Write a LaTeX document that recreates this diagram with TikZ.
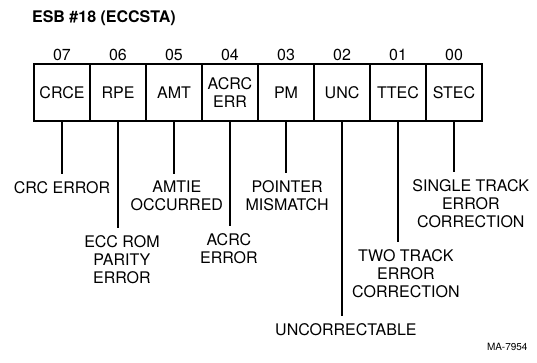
\documentclass[tikz,border=0pt]{standalone}
\usepackage{fontspec}
\setmainfont{TeX Gyre Heros}
\usetikzlibrary{positioning}
\tikzset{
  bitcell/.style={draw=black, line width=0.6pt, minimum width=28pt, minimum height=28.5pt, inner sep=0pt, outer sep=0pt, align=center, font=\fontsize{8}{8.8}\selectfont},
  bitnum/.style={inner sep=0pt, font=\fontsize{8}{9}\selectfont},
  frame/.style={draw=black, line width=1.2pt},
  lead/.style={draw=black, line width=0.8pt},
  note/.style={inner sep=3.5pt, anchor=north, align=center, font=\fontsize{8}{9}\selectfont}
}

\begin{document}
\begin{tikzpicture}[x=28pt, y=28pt]
  \useasboundingbox (-0.607,1.143) rectangle (8.982,-5.321);
  \node[anchor=base west, inner sep=0pt, font=\bfseries\fontsize{8}{9}\selectfont] (title) at (-0.04,0.75) {ESB \#18 (ECCSTA)};
  % register cells
  \node[bitcell, anchor=north west] (c7) at (0,0) {CRCE};
  \node[bitcell, right=0pt of c7] (c6) {RPE};
  \node[bitcell, right=0pt of c6] (c5) {AMT};
  \node[bitcell, right=0pt of c5] (c4) {ACRC\\ERR};
  \node[bitcell, right=0pt of c4] (c3) {PM};
  \node[bitcell, right=0pt of c3] (c2) {UNC};
  \node[bitcell, right=0pt of c2] (c1) {TTEC};
  \node[bitcell, right=0pt of c1] (c0) {STEC};
  \draw[frame] (c7.north west) rectangle (c0.south east);
  % bit numbers
  \node[bitnum, above=1.3pt of c7] (n7) {07};
  \node[bitnum, above=1.3pt of c6] (n6) {06};
  \node[bitnum, above=1.3pt of c5] (n5) {05};
  \node[bitnum, above=1.3pt of c4] (n4) {04};
  \node[bitnum, above=1.3pt of c3] (n3) {03};
  \node[bitnum, above=1.3pt of c2] (n2) {02};
  \node[bitnum, above=1.3pt of c1] (n1) {01};
  \node[bitnum, above=1.3pt of c0] (n0) {00};
  % descriptions
  \node[note] (l7) at (0.5,-1.96) {CRC ERROR};
  \node[note] (l6) at (1.57,-2.93) {ECC ROM\\PARITY\\ERROR};
  \node[note] (l5) at (2.55,-1.96) {AMTIE\\OCCURRED};
  \node[note] (l4) at (3.48,-2.89) {ACRC\\ERROR};
  \node[note] (l3) at (4.52,-1.95) {POINTER\\MISMATCH};
  \node[note] (l2) at (5.57,-4.5) {UNCORRECTABLE};
  \node[note] (l1) at (6.64,-3.18) {TWO TRACK\\ERROR\\CORRECTION};
  \node[note] (l0) at (7.8,-1.93) {SINGLE TRACK\\ERROR\\CORRECTION};
  \draw[lead] (c7.south) -- (c7.south |- l7.north);
  \draw[lead] (c6.south) -- (c6.south |- l6.north);
  \draw[lead] (c5.south) -- (c5.south |- l5.north);
  \draw[lead] (c4.south) -- (c4.south |- l4.north);
  \draw[lead] (c3.south) -- (c3.south |- l3.north);
  \draw[lead] (c2.south) -- (c2.south |- l2.north);
  \draw[lead] (c1.south) -- (c1.south |- l1.north);
  \draw[lead] (c0.south) -- (c0.south |- l0.north);
  \node[anchor=base east, inner sep=0pt, font=\fontsize{5}{6}\selectfont] (tag) at (8.82,-5.11) {MA-7954};
\end{tikzpicture}
\end{document}
